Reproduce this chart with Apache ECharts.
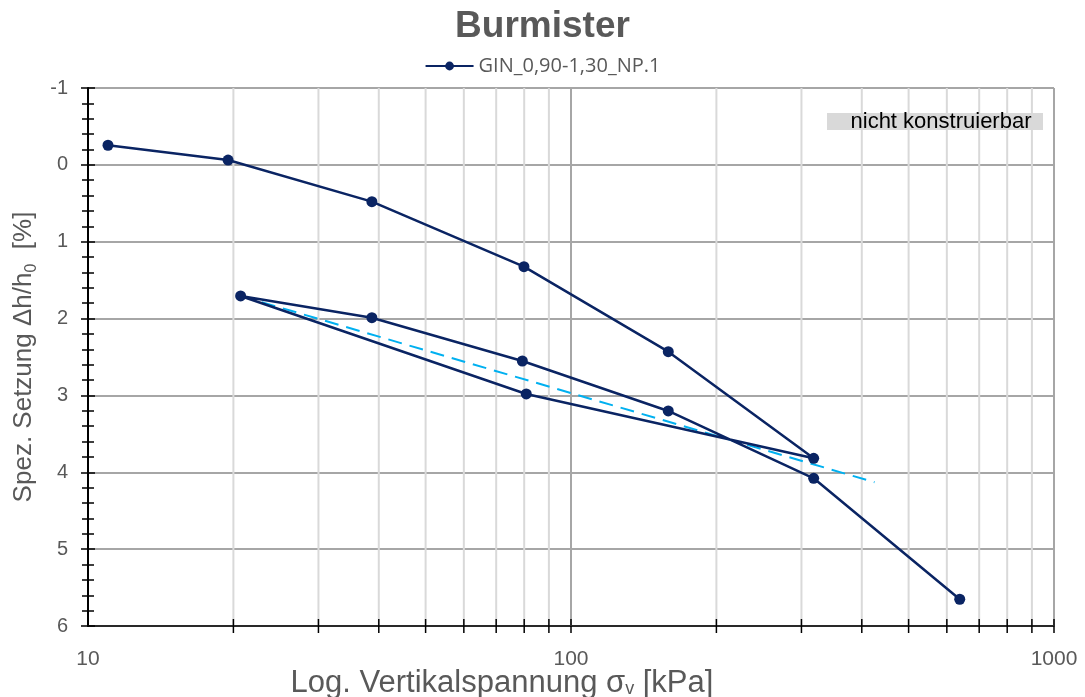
<!DOCTYPE html>
<html>
<head>
<meta charset="utf-8">
<script src="https://cdn.jsdelivr.net/npm/echarts@6/dist/echarts.min.js"></script>
<style>html,body{margin:0;padding:0;background:#fff}#c{width:1085px;height:697px}</style>
</head>
<body>
<div id="c"></div>
<script>
// Data
const sigma = [11, 19.5, 38.7, 79.9, 159, 318, 80.8, 20.7, 38.7, 79.3, 159, 318, 638];
const setzung = [-0.255, -0.063, 0.479, 1.325, 2.431, 3.818, 2.981, 1.706, 1.989, 2.552, 3.202, 4.078, 5.652];
const trendSigma = [20.7, 425];
const trendSetzung = [1.706, 4.13];
const minorX = [20, 30, 40, 50, 60, 70, 80, 90, 200, 300, 400, 500, 600, 700, 800, 900];
const majorX = [100, 1000];
const seriesName = 'GIN_0,90-1,30_NP.1';

const navy = '#0a2463';
const FONT = 'Liberation Sans, Arial, sans-serif';

const chart = echarts.init(document.getElementById('c'), null, {renderer: 'canvas'});

function vLine(color, width) {
  return function (params, api) {
    const x = api.value(0);
    const p1 = api.coord([x, -1]);
    const p2 = api.coord([x, 6]);
    return {type: 'line', shape: {x1: p1[0], y1: p1[1], x2: p2[0], y2: p2[1]},
      style: {stroke: color, lineWidth: width}};
  };
}
function xTick(params, api) {
  const x = api.value(0);
  const p = api.coord([x, 6]);
  return {type: 'line', shape: {x1: p[0], y1: p[1] - 7, x2: p[0], y2: p[1] + 7},
    style: {stroke: '#000', lineWidth: 1.5}};
}

const yBase = {
  type: 'value', min: -1, max: 6, interval: 1, inverse: true, position: 'left'
};

chart.setOption({
  animation: false,
  title: {
    text: 'Burmister', left: 'center', top: 3,
    textStyle: {fontFamily: FONT, fontSize: 37, fontWeight: 'bold', color: '#595959'}
  },
  legend: {
    data: [seriesName], top: 51, left: 'center', itemWidth: 48, itemHeight: 11,
    textStyle: {fontFamily: 'Open Sans, sans-serif', fontSize: 20, color: '#595959'}
  },
  grid: {left: 88, right: 31, top: 88, bottom: 71, containLabel: false, outerBoundsMode: 'none'},
  xAxis: {
    type: 'log', logBase: 10, min: 10, max: 1000, splitNumber: 2,
    axisLine: {show: true, onZero: false, lineStyle: {color: '#000', width: 1.5}},
    axisTick: {show: false},
    splitLine: {show: false},
    axisLabel: {fontFamily: FONT, fontSize: 21, color: '#595959', margin: 23,
      formatter: v => String(Math.round(v))}
  },
  yAxis: [
    Object.assign({}, yBase, {
      name: 'Spez. Setzung Δh/h{s|0}  [%]', nameLocation: 'middle', nameGap: 44, nameRotate: 90,
      nameTextStyle: {
        fontFamily: FONT, fontSize: 26, color: '#595959',
        rich: {s: {fontFamily: FONT, fontSize: 16, color: '#595959', padding: [14, 0, 0, 0]}}
      },
      axisLine: {show: true, lineStyle: {color: '#000', width: 2}},
      axisTick: {show: true, inside: false, length: 7, lineStyle: {color: '#000', width: 1.5}},
      minorTick: {show: true, splitNumber: 5, length: 6, lineStyle: {color: '#000', width: 1.5}},
      splitLine: {show: true, lineStyle: {color: '#a6a6a6', width: 2}},
      axisLabel: {fontFamily: FONT, fontSize: 20, color: '#595959', margin: 20}
    }),
    Object.assign({}, yBase, {
      axisLine: {show: false},
      axisTick: {show: true, inside: true, length: 7, lineStyle: {color: '#000', width: 1.5}},
      minorTick: {show: true, splitNumber: 5, length: 6, lineStyle: {color: '#000', width: 1.5}},
      splitLine: {show: false},
      axisLabel: {show: false}
    })
  ],
  graphic: [
    {type: 'rect', left: 827, top: 113, shape: {width: 216, height: 17}, style: {fill: '#d9d9d9'}, z: 10},
    {type: 'text', x: 941, y: 122, style: {text: 'nicht konstruierbar', fontFamily: FONT, fontSize: 22,
      fill: '#000', align: 'center', verticalAlign: 'middle'}, z: 11},
    {type: 'text', x: 502, y: 683, z: 11, style: {
      text: '{m|Log. Vertikalspannung σ}{s|v}{m| [kPa]}', align: 'center', verticalAlign: 'middle',
      rich: {
        m: {fontFamily: FONT, fontSize: 31, fill: '#595959', lineHeight: 31},
        s: {fontFamily: FONT, fontSize: 18, fill: '#595959', lineHeight: 31, padding: [12, 0, 0, 0]}
      }}}
  ],
  series: [
    {type: 'custom', name: 'minorGrid', silent: true, z: 0, renderItem: vLine('#d9d9d9', 2),
      data: minorX.map(v => [v, 0])},
    {type: 'custom', name: 'majorGrid', silent: true, z: 1, renderItem: vLine('#a6a6a6', 2),
      data: majorX.map(v => [v, 0])},
    {type: 'custom', name: 'xTicks', silent: true, z: 5, renderItem: xTick,
      data: minorX.concat(majorX).map(v => [v, 0])},
    {type: 'line', name: 'trend', silent: true, z: 3, symbol: 'none',
      lineStyle: {color: '#00b0f0', width: 2, type: [14, 8]},
      data: trendSigma.map((v, i) => [v, trendSetzung[i]])},
    {type: 'line', name: seriesName, z: 4, symbol: 'circle', symbolSize: 11,
      itemStyle: {color: navy}, lineStyle: {color: navy, width: 2.5},
      data: sigma.map((v, i) => [v, setzung[i]])}
  ]
});
</script>
</body>
</html>
